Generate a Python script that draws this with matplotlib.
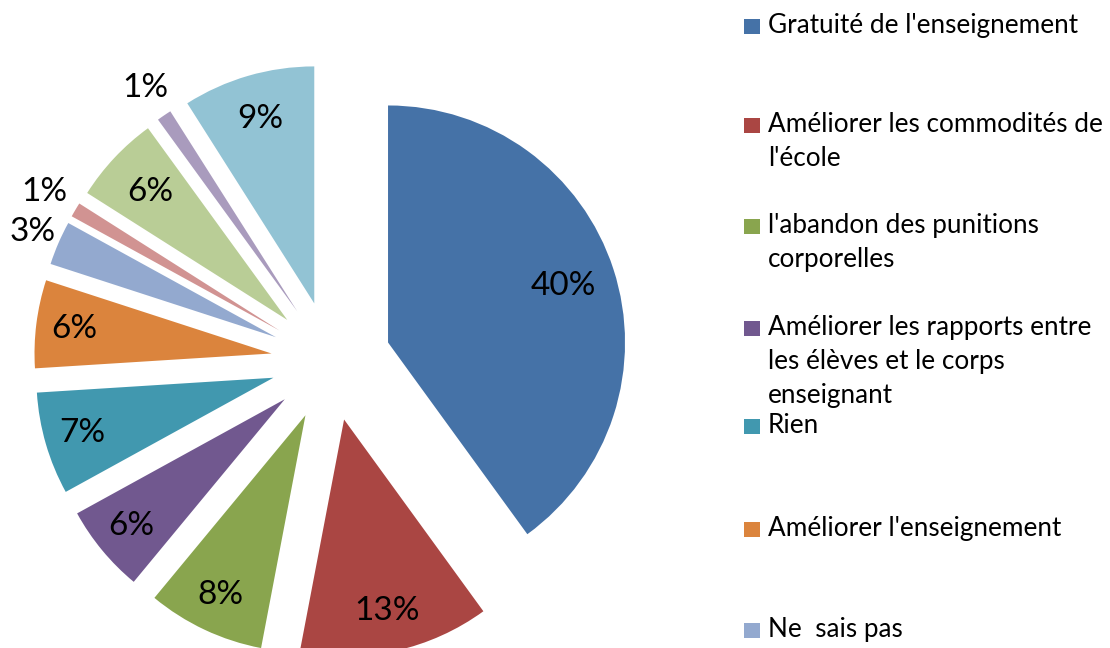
import numpy as np
import matplotlib.pyplot as plt
from matplotlib.patches import Rectangle

# data, clockwise from 12 o'clock
values = [40, 13, 8, 6, 7, 6, 3, 1, 6, 1, 9]
colors = ['#4572A7', '#AA4643', '#89A54E', '#71588F', '#4198AF', '#DB843D',
          '#93A9CF', '#D19392', '#B9CD96', '#A99BBD', '#92C3D4']
legend_labels = ["Gratuité de l'enseignement",
                 "Améliorer les commodités de\nl'école",
                 "l'abandon des punitions\ncorporelles",
                 "Améliorer les rapports entre\nles élèves et le corps\nenseignant",
                 "Rien",
                 "Améliorer l'enseignement",
                 "Ne  sais pas"]

# label distance from each (exploded) wedge tip, in radii
label_dist = [0.776, 0.83, 0.84, 0.84, 0.84, 0.84, 1.12, 1.15, 0.79, 1.14, 0.81]
# legend first-line baselines, px from top
legend_y = [33, 132, 233, 335, 433, 536, 637]

W, H = 1110, 648
R = 237.0  # pie radius in px
cx, cy = 331, 361  # pie centre in px (from top-left)

plt.rcParams['font.family'] = ['Lato', 'DejaVu Sans']

fig = plt.figure(figsize=(W / 100, H / 100), dpi=100)
ax = fig.add_axes([0, 0, 1, 1])

wedges, texts, autotexts = ax.pie(values, colors=colors, explode=[0.253] * len(values),
                                  startangle=90, counterclock=False,
                                  autopct='%d%%', pctdistance=0.8,
                                  textprops={'fontsize': 24, 'color': 'black'},
                                  wedgeprops={'linewidth': 0})

for w, t, d in zip(wedges, autotexts, label_dist):
    th = np.deg2rad((w.theta1 + w.theta2) / 2)
    x0, y0 = w.center
    t.set_position((x0 + d * np.cos(th), y0 + d * np.sin(th)))
    t.set_ha('center')
    t.set_va('center')

ax.set_xlim(-cx / R, (W - cx) / R)
ax.set_ylim(-(H - cy) / R, cy / R)
ax.set_aspect('auto')
ax.axis('off')

# legend drawn by hand to keep Excel's uneven spacing
for lab, col, yb in zip(legend_labels, colors, legend_y):
    fig.patches.append(Rectangle((744 / W, 1 - (yb + 0.5) / H), 16 / W, 15 / H,
                                 transform=fig.transFigure, facecolor=col,
                                 edgecolor='none'))
    for i, line in enumerate(lab.split('\n')):
        fig.text(768 / W, 1 - (yb + 34 * i) / H, line, fontsize=18.8,
                 ha='left', va='baseline')

fig.savefig('out.png', dpi=100)
